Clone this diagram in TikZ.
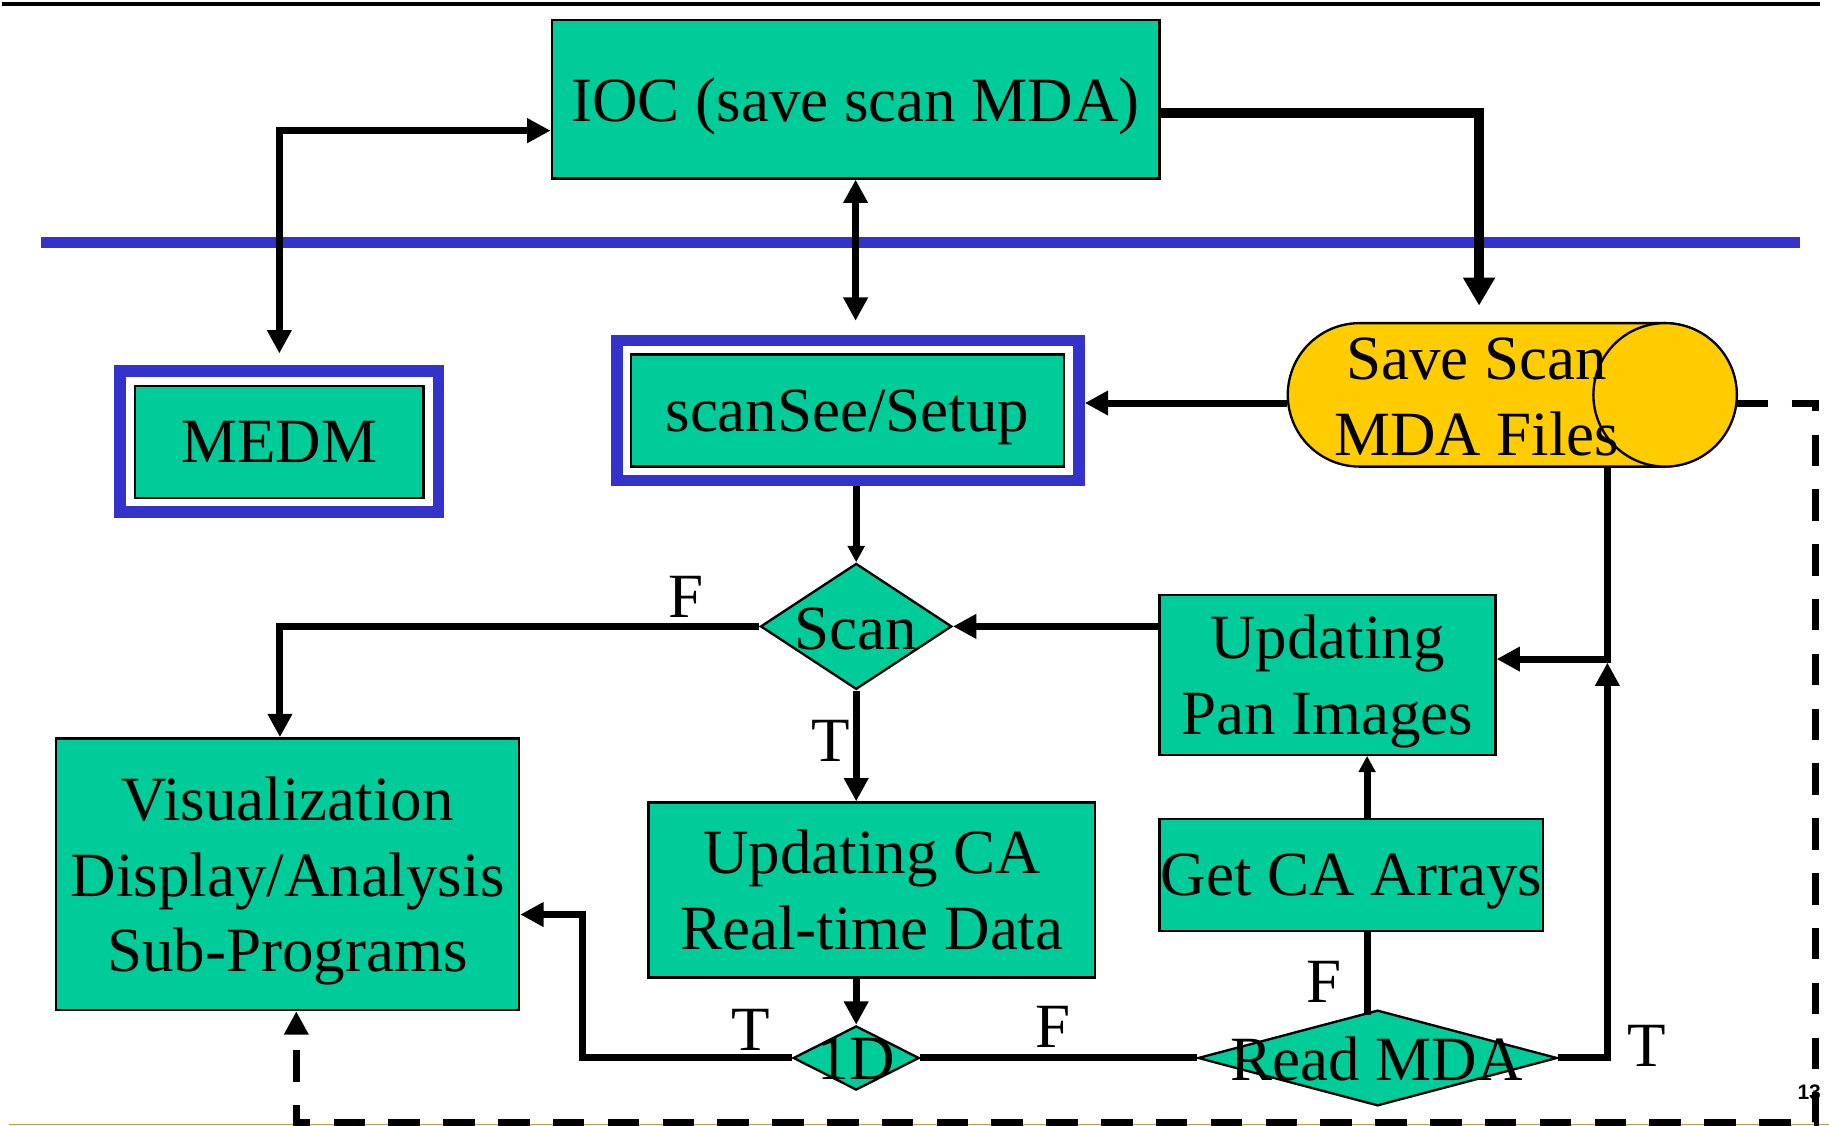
\documentclass[tikz,border=0pt]{standalone}
\usepackage{fontspec}
\setmainfont{Liberation Serif}
\setsansfont{Liberation Sans}
\usetikzlibrary{arrows.meta,shapes.geometric,shapes.misc}
\definecolor{boxgreen}{HTML}{00CC99}
\definecolor{frameblue}{HTML}{3333CC}
\definecolor{fileyellow}{HTML}{FFCC00}
\definecolor{rulegold}{HTML}{CC9933}
\begin{document}
\begin{tikzpicture}[x=0.5pt, y=-0.5pt,
  every node/.style = {font=\fontsize{27pt}{32.5pt}\selectfont, inner sep=0pt},
  block/.style = {rectangle, draw, line width=1pt, fill=boxgreen,
    align=center, text depth=0pt},
  blueframe/.style = {rectangle, draw=frameblue, line width=5pt},
  store/.style = {rounded rectangle, draw, line width=1pt, fill=fileyellow},
  decision/.style = {diamond, draw, line width=1pt, fill=boxgreen},
  tag/.style = {align=center, text depth=0pt},
  link/.style = {line width=3pt},
  flow/.style = {line width=3pt, -{Triangle[length=10pt,width=10pt]}},
  smallflow/.style = {line width=3pt, -{Triangle[length=7pt,width=7pt]}},
  twoway/.style = {line width=3pt,
    {Triangle[length=10pt,width=10pt]}-{Triangle[length=10pt,width=10pt]}},
  heavy/.style = {line width=4.5pt, -{Triangle[length=12pt,width=13pt]}},
  dashflow/.style = {line width=3pt, dash pattern=on 13.5pt off 10pt,
    -{Triangle[length=10pt,width=10pt]}}]
  \useasboundingbox (0,0) rectangle (1568,965);
  \draw[line width=1.8pt] (2,3.5) -- (1560,3.5);
  \draw[frameblue, line width=4.9pt] (35,208) -- (1543,208);
  \draw[rulegold, line width=0.8pt] (8,964) -- (1568,964);

  \node[block, minimum width=260.5pt, minimum height=68pt] (ioc) at (733.5,85) {IOC (save scan MDA)};
  \node[block, minimum width=123.5pt, minimum height=48pt] (medm) at (239.5,379) {MEDM};
  \node[blueframe, minimum width=136.5pt, minimum height=60.5pt] (medmframe) at (239.5,378.5) {};
  \node[block, minimum width=185.5pt, minimum height=48pt] (setup) at (726.5,352) {scanSee/Setup};
  \node[blueframe, minimum width=198pt, minimum height=60pt] (setupframe) at (727,352) {};
  \node[store, minimum width=192pt, minimum height=61.5pt] (save) at (1296,338.5) {};
  \node[circle, draw, line width=1pt, fill=fileyellow, minimum size=61.5pt] (saveend) at ([xshift=-30.75pt]save.east) {};
  \node[tag] (savetext) at (1266,340) {Save Scan\\MDA Files};
  \node[decision, minimum width=82pt, minimum height=54pt] (scan) at (734,537) {};
  \node[tag] (scantext) at (734,539) {Scan};
  \node[block, minimum width=144pt, minimum height=68.5pt] (pan) at (1138,578.5) {Updating\\Pan Images};
  \node[block, minimum width=198.5pt, minimum height=116.5pt] (vis) at (246.5,749.5) {Visualization\\Display/Analysis\\Sub-Programs};
  \node[block, minimum width=191.5pt, minimum height=75pt] (ca) at (747.5,763) {Updating CA\\Real-time Data};
  \node[block, minimum width=164.5pt, minimum height=48pt] (getca) at (1158.5,750) {Get CA Arrays};
  \node[decision, minimum width=54pt, minimum height=27.5pt] (oned) at (734,907) {};
  \node[tag] (onedtext) at (734,908) {1D};
  \node[decision, minimum width=154pt, minimum height=41pt] (readmda) at (1181,907) {};
  \node[tag] (readtext) at (1180,907.5) {Read MDA};

  \node[tag] (fscan) at (588,511.5) {F};
  \node[tag] (tscan) at (712,635.5) {T};
  \node[tag] (toned) at (644,882.5) {T};
  \node[tag] (foned) at (903,880.5) {F};
  \node[tag] (fread) at (1135,841.5) {F};
  \node[tag] (tread) at (1412,896.5) {T};
  \node[font=\sffamily\bfseries\fontsize{9pt}{9pt}\selectfont] (pagenum) at (1551,936.5) {13};

  \coordinate (colx) at (1172,0);
  \coordinate (colr) at (1378,0);
  \coordinate (savein) at (1268,262);
  \coordinate (dcorner) at (1556,962.5);
  \coordinate (savel) at ([yshift=-3.5pt]save.west);
  \coordinate (panin) at ([yshift=6.75pt]pan.east);
  \coordinate (panjoin) at (panin -| colr);
  \coordinate (readtop) at (readmda.north -| colx);

  \draw[twoway, shorten >=5pt] ([yshift=-13.5pt]ioc.west) -| (medmframe.north);
  \draw[heavy] ([yshift=-6pt]ioc.east) -| (savein);
  \draw[twoway, shorten >=6pt] (ioc.south) -- (ioc.south |- setupframe.north);
  \draw[flow] (savel) -- (savel -| setupframe.east);
  \draw[smallflow] (setupframe.south -| scan.north) -- (scan.north);
  \draw[flow] (scan.west) -| ([xshift=-3.25pt]vis.north);
  \draw[flow] (scan.south) -- (scan.south |- ca.north);
  \draw[flow] (scan.east -| pan.west) -- (scan.east);
  \draw[flow] (oned.north |- ca.south) -- (oned.north);
  \draw[flow] (oned.west) -- ++(-180,0) |- ([yshift=-17.25pt]vis.east);
  \draw[link] (oned.east) -- (readmda.west);
  \draw[link] ([yshift=-2.5pt]readtop) -- (getca.south -| colx);
  \draw[smallflow] (getca.north -| colx) -- (pan.south -| colx);
  \draw[flow] (save.south -| colr) |- (panin);
  \draw[flow] (readmda.east) -| ([yshift=-1.5pt]panjoin);
  \draw[dashflow] ([yshift=-3.5pt]save.east) -| (dcorner) -| ([xshift=3.75pt]vis.south);
\end{tikzpicture}
\end{document}
